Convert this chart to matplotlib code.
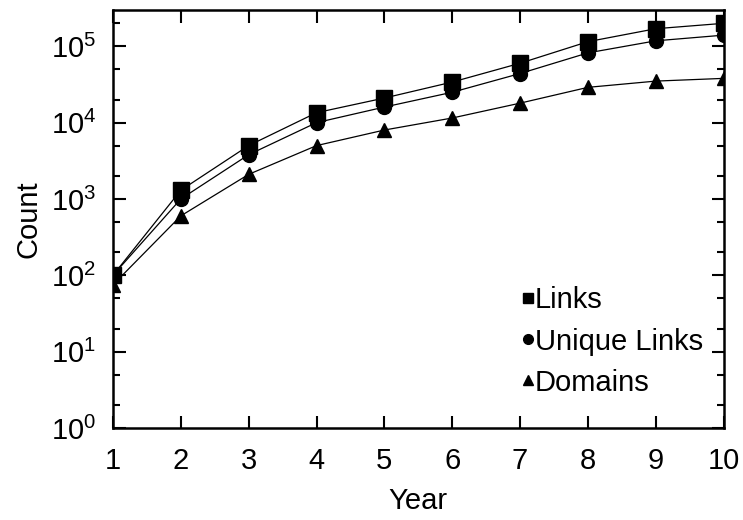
import matplotlib
matplotlib.use("Agg")
import matplotlib.pyplot as plt
from matplotlib.lines import Line2D
from matplotlib.ticker import LogLocator, NullFormatter

plt.rcParams['font.family'] = ['Liberation Sans', 'DejaVu Sans']

years = [1, 2, 3, 4, 5, 6, 7, 8, 9, 10]
links = [100, 1300, 5000, 13500, 21000, 34000, 60000, 115000, 170000, 200000]
unique_links = [100, 1000, 3800, 10000, 16000, 25000, 44000, 82000, 118000, 140000]
domains = [75, 600, 2100, 5000, 8000, 11500, 18000, 29000, 35000, 38000]

fig = plt.figure(figsize=(7.43, 5.2), dpi=100)
ax = fig.add_axes([0.152, 0.177, 0.822, 0.804])

series = [
    (links, 's', 11, 'Links'),
    (unique_links, 'o', 10, 'Unique Links'),
    (domains, '^', 10, 'Domains'),
]
handles = []
for vals, mk, ms, name in series:
    ax.plot(years, vals, color='black', lw=0.9, marker=mk, markersize=ms)
    handles.append(Line2D([], [], color='black', ls='none', marker=mk,
                          markersize=ms * 0.7, label=name))

ax.set_yscale('log')
ax.set_xlim(1, 10)
ax.set_ylim(1, 3e5)
ax.set_xticks(years)
ax.yaxis.set_major_locator(LogLocator(base=10, numticks=10))
ax.yaxis.set_minor_locator(LogLocator(base=10, subs=(2, 5), numticks=10))
ax.yaxis.set_minor_formatter(NullFormatter())

for s in ax.spines.values():
    s.set_linewidth(1.8)
ax.tick_params(which='both', direction='in', top=True, right=True,
               labelsize=21, width=1.5)
ax.tick_params(which='major', length=9)
ax.tick_params(axis='x', which='major', pad=14)
ax.tick_params(axis='y', which='major', pad=12)
ax.tick_params(which='minor', length=5)

ax.set_xlabel('Year', fontsize=21, labelpad=8)
ax.set_ylabel('Count', fontsize=21, labelpad=6)

ax.legend(handles=handles, loc='lower right', bbox_to_anchor=(0.99, 0.04),
          frameon=False, fontsize=21, handlelength=0.5, handletextpad=0.0,
          labelspacing=0.45, borderpad=0)

fig.savefig('out.png', dpi=100)
